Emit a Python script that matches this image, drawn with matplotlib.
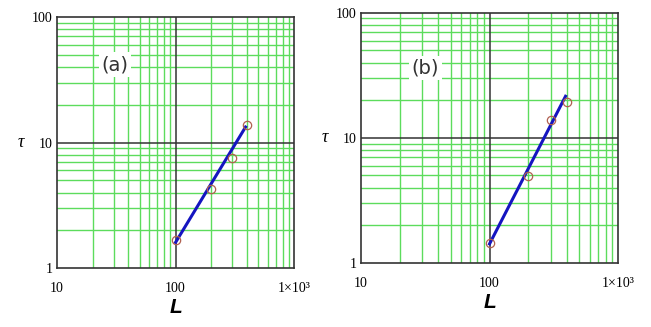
import matplotlib.pyplot as plt
import numpy as np

# ----------- 数据 -----------
L_pts = [100, 200, 300, 400]
tau_a = [1.68, 4.3, 7.5, 13.8]
tau_b = [1.45, 4.95, 13.8, 19.3]

# 拟合直线端点
fit_L = [100, 390]
fit_tau_a = [1.6, 13.3]
fit_tau_b = [1.42, 21.5]

xticks = [10, 100, 1000]
xtick_labels = ['10', '100', '1×10³']
yticks = [1, 10, 100]
ytick_labels = ['1', '10', '100']

GREEN = '#5cdc5c'
SERIF = 'Liberation Serif'


def setup_axes(ax):
    ax.set_xscale('log')
    ax.set_yscale('log')
    ax.set_xlim(10, 1000)
    ax.set_ylim(1, 100)
    # 次网格 (绿色)
    for dec in (10, 100):
        for k in range(2, 10):
            ax.axvline(dec * k, color=GREEN, lw=1.0, zorder=1)
    for dec in (1, 10):
        for k in range(2, 10):
            ax.axhline(dec * k, color=GREEN, lw=1.0, zorder=1)
    # 主网格 (黑色)
    ax.axvline(100, color='#333333', lw=1.1, zorder=1.5)
    ax.axhline(10, color='#333333', lw=1.1, zorder=1.5)
    ax.set_xticks(xticks)
    ax.set_xticklabels(xtick_labels, fontfamily=SERIF, fontsize=10)
    ax.set_yticks(yticks)
    ax.set_yticklabels(ytick_labels, fontfamily=SERIF, fontsize=10)
    ax.minorticks_off()
    ax.tick_params(length=0, pad=10)
    ax.tick_params(axis='y', pad=3)
    for s in ax.spines.values():
        s.set_color('#333333')
        s.set_linewidth(1.2)
        s.set_zorder(3)


fig = plt.figure(figsize=(6.51, 3.27), dpi=100)
ax1 = fig.add_axes([0.0876, 0.180, 0.364, 0.768])
ax2 = fig.add_axes([0.5545, 0.196, 0.395, 0.765])

for ax, tau, fit_tau, tag, tpos in [(ax1, tau_a, fit_tau_a, '(a)', (0.245, 0.81)),
                                     (ax2, tau_b, fit_tau_b, '(b)', (0.25, 0.78))]:
    setup_axes(ax)
    ax.plot(fit_L, fit_tau, color='#1515c0', lw=2.2, zorder=4)
    ax.plot(L_pts, tau, 'o', mfc='none', mec='#b06050', ms=6, mew=0.9, zorder=5)
    ax.text(*tpos, tag, transform=ax.transAxes, fontsize=14, color='#333333',
            ha='center', va='center', zorder=6,
            bbox=dict(facecolor='white', edgecolor='none', pad=2))
    ax.set_xlabel('L', fontsize=15, fontweight='bold', style='italic',
                  fontfamily='Liberation Sans', labelpad=2)
    ax.set_ylabel('τ', fontsize=13, style='italic', fontfamily=SERIF,
                  rotation=0, labelpad=8, va='center')

fig.savefig('out.png', dpi=100)
